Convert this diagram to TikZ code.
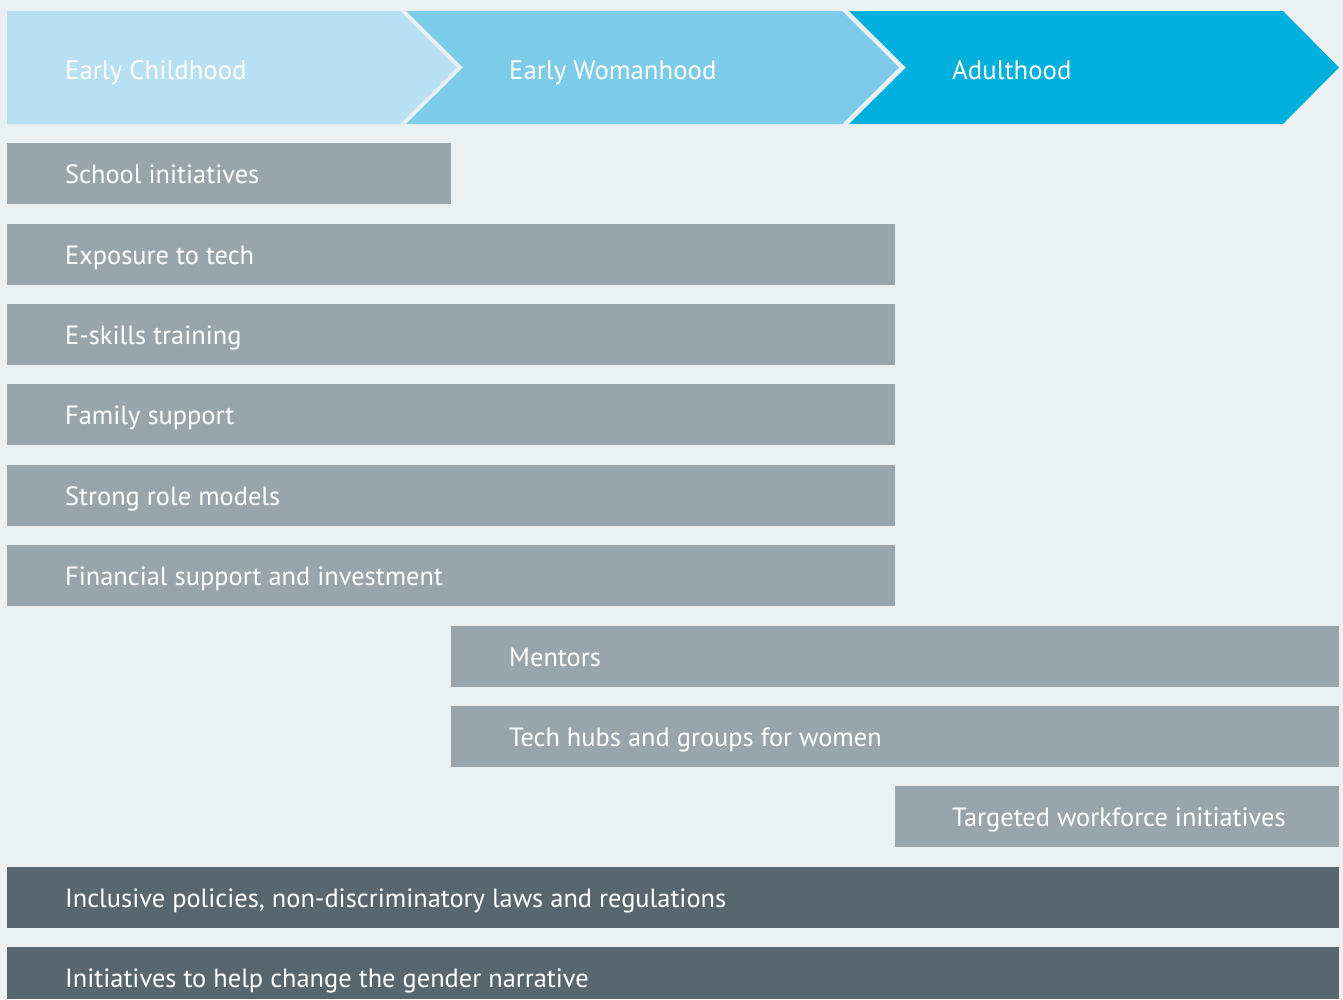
\documentclass[tikz,border=0pt]{standalone}
\usepackage{fontspec}
\setmainfont{PT Sans}
\definecolor{bg}{HTML}{EBF0F3}
\definecolor{chevA}{HTML}{B7E0F2}
\definecolor{chevB}{HTML}{7BCBE9}
\definecolor{chevC}{HTML}{00B0DC}
\definecolor{barlight}{HTML}{98A5AD}
\definecolor{bardark}{HTML}{58676F}
\begin{document}
\begin{tikzpicture}[x=1pt,y=-1pt,
  bar/.style={anchor=north west, inner sep=0pt, minimum height=61pt, fill=barlight},
  darkbar/.style={bar, fill=bardark},
  lbl/.style={anchor=base west, inner sep=0pt, text=white, font=\fontsize{26.4}{32}\selectfont},
  chevlbl/.style={lbl, font=\fontsize{26.8}{32}\selectfont}]
\fill[bg] (0,0) rectangle (1343,999);
\useasboundingbox (0,0) rectangle (1343,999);
% chevrons
\fill[chevA] (7,11) -- (400,11) -- (457,67.5) -- (400,124) -- (7,124) -- cycle;
\fill[chevB] (406,11) -- (842,11) -- (899,67.5) -- (842,124) -- (406,124) -- (463,67.5) -- cycle;
\fill[chevC] (849,11) -- (1283,11) -- (1339,67.5) -- (1283,124) -- (849,124) -- (906,67.5) -- cycle;
\node[chevlbl] (tA) at (65,79.5) {Early Childhood};
\node[chevlbl] (tB) at (509,79.5) {Early Womanhood};
\node[chevlbl] (tC) at (952,79.5) {Adulthood};
% bars
\node[bar, minimum width=444pt] (b1) at (7,143) {};
\node[lbl] (l1) at (65,183.5) {School initiatives};
\node[bar, minimum width=888pt] (b2) at (7,224) {};
\node[lbl] (l2) at (65,264.5) {Exposure to tech};
\node[bar, minimum width=888pt] (b3) at (7,304) {};
\node[lbl] (l3) at (65,344.5) {E-skills training};
\node[bar, minimum width=888pt] (b4) at (7,384) {};
\node[lbl] (l4) at (65,424.5) {Family support};
\node[bar, minimum width=888pt] (b5) at (7,465) {};
\node[lbl] (l5) at (65,505.5) {Strong role models};
\node[bar, minimum width=888pt] (b6) at (7,545) {};
\node[lbl] (l6) at (65,585.5) {Financial support and investment};
\node[bar, minimum width=888pt] (b7) at (451,626) {};
\node[lbl] (l7) at (509,666.5) {Mentors};
\node[bar, minimum width=888pt] (b8) at (451,706) {};
\node[lbl] (l8) at (509,746.5) {Tech hubs and groups for women};
\node[bar, minimum width=444pt] (b9) at (895,786) {};
\node[lbl] (l9) at (952,826.5) {Targeted workforce initiatives};
\node[darkbar, minimum width=1332pt] (b10) at (7,867) {};
\node[lbl] (l10) at (65,907.5) {Inclusive policies, non-discriminatory laws and regulations};
\node[darkbar, minimum width=1332pt, minimum height=52pt] (b11) at (7,947) {};
\node[lbl] (l11) at (65,987.5) {Initiatives to help change the gender narrative};
\end{tikzpicture}
\end{document}
